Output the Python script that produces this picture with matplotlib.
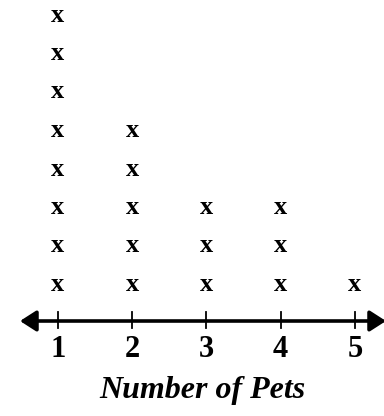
import matplotlib
matplotlib.use("Agg")
import matplotlib.pyplot as plt

categories = [1, 2, 3, 4, 5]
counts = [8, 5, 3, 3, 1]
tick_labels = ["1", "2", "3", "4", "5"]
xlabel = "Number of Pets"

W, H = 384, 416
fig = plt.figure(figsize=(W / 100, H / 100), dpi=100)
ax = fig.add_axes([0, 0, 1, 1])
ax.set_axis_off()

# pixel geometry -> data limits
x1_px, dx_px = 58.0, 74.25
row1_px, dy_px = 291.0, 38.5
ax.set_xlim(1 - x1_px / dx_px, 1 + (W - x1_px) / dx_px)
ax.set_ylim(1 - (H - row1_px) / dy_px, 1 + row1_px / dy_px)

def ypx(p):
    return 1 - (p - row1_px) / dy_px

font = "Liberation Serif"
for c, n in zip(categories, counts):
    for k in range(1, n + 1):
        ax.text(c, k, "x", ha="center", va="baseline", family=font,
                fontweight="bold", fontsize=19, color="black")

# number line
y_axis = ypx(321)
ax.annotate("", xy=(1 - (x1_px - 20) / dx_px, y_axis),
            xytext=(1 + (W + 2 - x1_px) / dx_px, y_axis),
            arrowprops=dict(arrowstyle="<|-|>,head_length=0.7,head_width=0.45",
                            lw=2.6, color="black", shrinkA=0, shrinkB=0,
                            mutation_scale=14))
for c, lab in zip(categories, tick_labels):
    ax.plot([c, c], [ypx(312), ypx(328)], color="black", lw=1.3)
    ax.text(c, ypx(357), lab, ha="center", va="baseline", family=font,
            fontweight="bold", fontsize=22, color="black")

ax.text(1 + (202 - x1_px) / dx_px, ypx(398), xlabel, ha="center", va="baseline",
        family=font, fontweight="bold", fontstyle="italic", fontsize=23,
        color="black")

fig.savefig("out.png", dpi=100)
